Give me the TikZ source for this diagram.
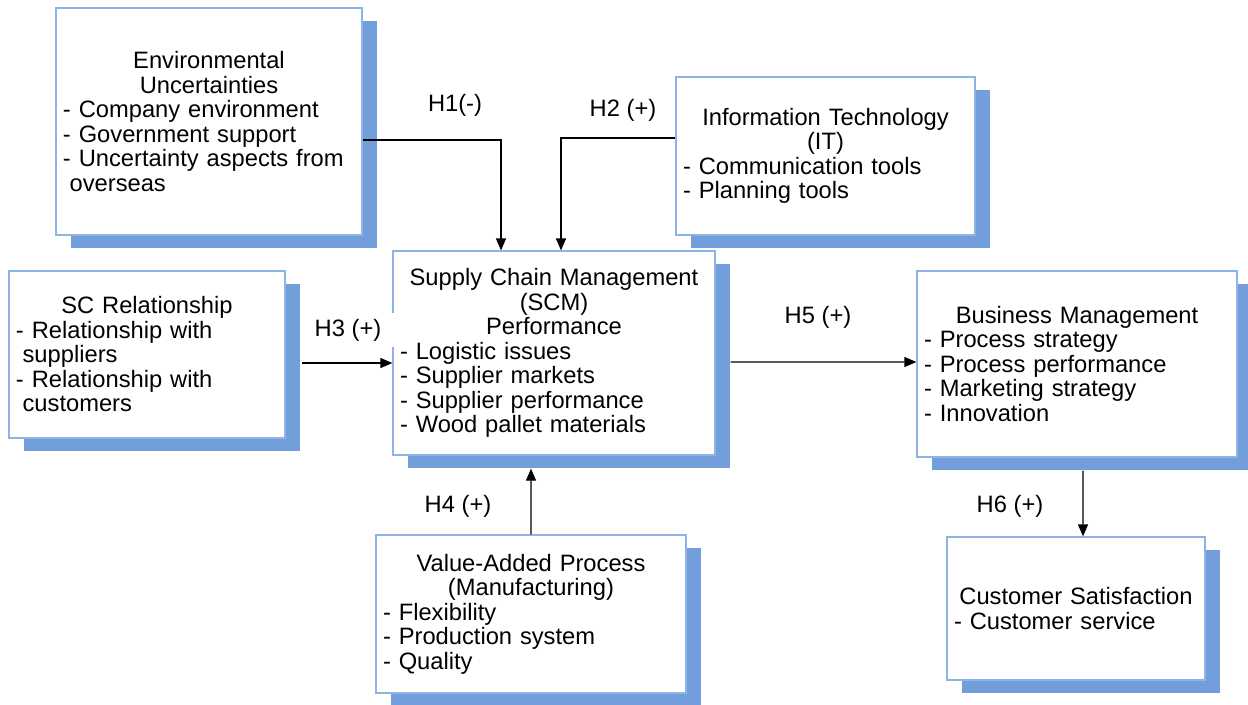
\documentclass[tikz,border=0pt]{standalone}
\usepackage{fontspec}
\setmainfont{Liberation Sans}
\usepackage{xcolor}
\usepackage{tikz}
\usetikzlibrary{arrows.meta, shadows}
\definecolor{boxline}{HTML}{8EB4E3}
\definecolor{boxshade}{HTML}{729FDB}
\newcommand{\boxhead}[1]{{\centering #1\par}}
\newcommand{\hang}{\hspace*{0.28em}}

\begin{document}
\begin{tikzpicture}[
    x=1bp, y=1bp,
    >={Triangle[length=6bp, width=5bp]},
    every node/.style={font=\fontsize{11.9}{12.3}\selectfont},
    factor/.style={draw=boxline, line width=0.6bp, fill=white, align=left,
                   inner xsep=3.5bp, inner ysep=0pt,
                   general shadow={fill=boxshade, shadow xshift=7.5bp, shadow yshift=-6.5bp}},
    arrow/.style={->, line width=0.6bp},
    hyp/.style={inner sep=1pt}
]
    \useasboundingbox (0,0) rectangle (624,352);

    % Environment
    \node[factor, text width=146bp, minimum height=113.5bp] (env) at (104.5,291.25)
        {\boxhead{Environmental\\Uncertainties}
         - Company environment\\
         - Government support\\
         - Uncertainty aspects from\\
         \hang overseas};

    % IT
    \node[factor, text width=142.5bp, minimum height=79bp] (it) at (412.75,274)
        {\boxhead{Information Technology\\(IT)}
         - Communication tools\\
         - Planning tools};

    % Relationship
    \node[factor, text width=131bp, minimum height=83.5bp] (screl) at (73.5,174.75)
        {\boxhead{SC Relationship}
         - Relationship with\\
         \hang suppliers\\
         - Relationship with\\
         \hang customers};

    % SCM performance
    \node[factor, text width=154bp, minimum height=102bp] (scm) at (277,175.5)
        {\boxhead{Supply Chain Management\\(SCM)\\Performance}
         - Logistic issues\\
         - Supplier markets\\
         - Supplier performance\\
         - Wood pallet materials};

    % Business management
    \node[factor, text width=153bp, minimum height=93bp] (bm) at (538.5,170)
        {\boxhead{Business Management}
         - Process strategy\\
         - Process performance\\
         - Marketing strategy\\
         - Innovation};

    % Value-added process
    \node[factor, text width=148bp, minimum height=79bp] (va) at (265.5,45)
        {\boxhead{Value-Added Process\\(Manufacturing)}
         - Flexibility\\
         - Production system\\
         - Quality};

    % Customer satisfaction
    \node[factor, text width=122bp, minimum height=71.5bp] (cs) at (538,47.75)
        {\boxhead{Customer Satisfaction}
         - Customer service};

    % Hypotheses
    \draw[arrow] ([yshift=-9.25bp]env.east) -| ([xshift=-26.5bp]scm.north);
    \draw[arrow] ([yshift=9bp]it.west) -| ([xshift=3.5bp]scm.north);
    \draw[arrow] ([xshift=8bp, yshift=-4.25bp]screl.east) -- ([yshift=-5bp]scm.west);
    \draw[arrow] (va.north) -- ([xshift=-11.5bp, yshift=-6.5bp]scm.south);
    \draw[arrow] ([xshift=7.5bp, yshift=-4.5bp]scm.east) -- ([yshift=1bp]bm.west);
    \draw[arrow] ([xshift=3bp, yshift=-6.5bp]bm.south) -- ([xshift=3.5bp]cs.north);

    % Labels
    \node[hyp] (h1) at (227.5,299.5) {H1(-)};
    \node[hyp] (h2) at (311.5,297) {H2 (+)};
    \node[hyp, fill=white, inner xsep=7bp, inner ysep=2.75bp] (h3) at (174,187) {H3 (+)};
    \node[hyp] (h4) at (229,99) {H4 (+)};
    \node[hyp] (h5) at (409,193.5) {H5 (+)};
    \node[hyp] (h6) at (505,99) {H6 (+)};
\end{tikzpicture}
\end{document}
